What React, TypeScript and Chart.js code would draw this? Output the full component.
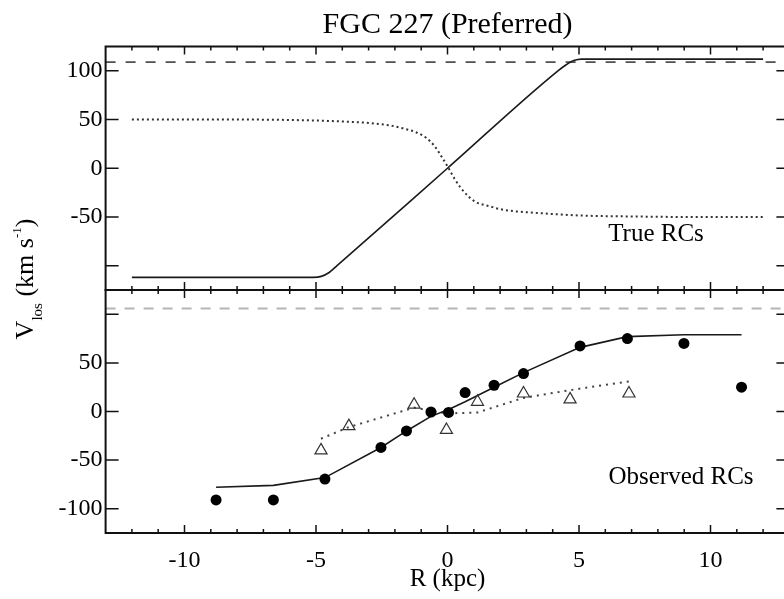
import React, { useEffect, useRef } from "react";
import { Chart, registerables } from "chart.js";

Chart.register(...registerables);

// ---------- data ----------
const X_MIN = -13;
const X_MAX = 13;
const Y_MIN = -125;
const Y_MAX = 125;
const X_TICKS = [-10, -5, 0, 5, 10];
const Y_TICKS = [-100, -50, 0, 50, 100];
const TOP_HIDDEN_LABELS = [-100];
const BOTTOM_HIDDEN_LABELS = [100];

// True RCs (top panel)
const TRUE_SOLID_R = [-12, -8, -5.1, -4.8, -4.5, -4.2, 0, 4.2, 4.5, 4.8, 5.1, 8, 12];
const TRUE_SOLID_V = [-112, -112, -112, -111, -107, -100, 0, 100, 106, 110.5, 112, 112, 112];
const TRUE_DOT_R = [-12, -8, -5, -4, -3, -2.2, -1.7, -1.2, -0.8, -0.5, -0.25, 0, 0.25, 0.5, 0.8, 1.1, 1.6, 2, 2.5, 3.2, 4, 5, 7, 9, 12];
const TRUE_DOT_V = [50, 50, 49, 48, 46.5, 44, 41, 37, 31, 23, 13, 2, -10, -20, -29, -35, -39, -42, -44, -45.5, -47, -48.5, -49.5, -50, -50];
const TRUE_VMAX = 109;

// Observed RCs (bottom panel)
const OBS_CIRCLE_R = [-8.8, -6.62, -4.66, -2.53, -1.56, -0.63, 0.04, 0.67, 1.77, 2.89, 5.04, 6.84, 8.99, 11.18];
const OBS_CIRCLE_V = [-91, -91, -69.5, -37, -20, -0.5, -1, 19.5, 27, 39, 67.5, 75, 70, 25];
const MODEL_SOLID_V = [-78, -76, -68, -37, -20, -5, 2, 10, 25, 40, 66, 77, 79, 79];
const OBS_TRI_R = [-4.81, -3.75, -1.27, -0.04, 1.14, 2.89, 4.66, 6.9];
const OBS_TRI_V = [-40, -15, 7, -19, 10, 18.5, 12.5, 18.5];
const MODEL_DOT_V = [-28, -16, 4, -2, -1, 14, 22, 31];
const OBS_VMAX = 106;

// ---------- layout ----------
const FONT = "'Liberation Serif', 'Times New Roman', serif";
const CANVAS_W = 800;
const CANVAS_H = 599;
const AREA_LEFT = 105.6;
const AREA_RIGHT = 789.4;
const TOP_AREA_TOP = 46.5;
const MID_Y = 290;
const BOT_AREA_BOTTOM = 533;

const pts = (xs: number[], ys: number[]) => xs.map((x, i) => ({ x, y: ys[i] }));

const framePlugin = {
  id: "frameTicks",
  afterDatasetsDraw(chart: any) {
    const { ctx, chartArea: a, scales } = chart;
    const xs = scales.x;
    const ys = scales.y;
    ctx.save();
    ctx.strokeStyle = "#111";
    ctx.lineWidth = 2;
    ctx.strokeRect(a.left, a.top, a.right - a.left, a.bottom - a.top);
    ctx.lineWidth = 1.5;
    ctx.beginPath();
    for (let r = -12; r <= 12; r++) {
      const px = xs.getPixelForValue(r);
      const len = r % 5 === 0 ? 8 : 4;
      ctx.moveTo(px, a.top);
      ctx.lineTo(px, a.top + len);
      ctx.moveTo(px, a.bottom);
      ctx.lineTo(px, a.bottom - len);
    }
    for (const v of Y_TICKS) {
      const py = ys.getPixelForValue(v);
      ctx.moveTo(a.left, py);
      ctx.lineTo(a.left + 13, py);
      ctx.moveTo(a.right, py);
      ctx.lineTo(a.right - 13, py);
    }
    ctx.stroke();
    ctx.restore();
  },
};

const topTextPlugin = {
  id: "topTexts",
  afterDraw(chart: any) {
    const { ctx } = chart;
    ctx.save();
    ctx.fillStyle = "#000";
    // title
    ctx.font = `30px ${FONT}`;
    ctx.textAlign = "center";
    ctx.textBaseline = "middle";
    ctx.fillText("FGC 227 (Preferred)", 447.5, 25);
    // panel label
    ctx.font = `25px ${FONT}`;
    ctx.fillText("True RCs", 656, 234);
    // y title with sub/superscript
    ctx.textAlign = "left";
    ctx.textBaseline = "alphabetic";
    const parts = [
      { t: "V", size: 26, dv: 0 },
      { t: "los", size: 15, dv: 9 },
      { t: " (km s", size: 26, dv: 0 },
      { t: "-1", size: 13, dv: -12 },
      { t: ")", size: 26, dv: 0 },
    ];
    let total = 0;
    const widths = parts.map((p) => {
      ctx.font = `${p.size}px ${FONT}`;
      const w = ctx.measureText(p.t).width;
      total += w;
      return w;
    });
    ctx.translate(33, 279);
    ctx.rotate(-Math.PI / 2);
    let u = -total / 2;
    parts.forEach((p, i) => {
      ctx.font = `${p.size}px ${FONT}`;
      ctx.fillText(p.t, u, p.dv);
      u += widths[i];
    });
    ctx.restore();
  },
};

const botTextPlugin = {
  id: "botTexts",
  afterDraw(chart: any) {
    const { ctx } = chart;
    ctx.save();
    ctx.fillStyle = "#000";
    ctx.font = `25px ${FONT}`;
    ctx.textAlign = "center";
    ctx.textBaseline = "middle";
    ctx.fillText("Observed RCs", 681, 477);
    ctx.restore();
  },
};

const yScale = (hidden: number[]) => ({
  type: "linear",
  min: Y_MIN,
  max: Y_MAX,
  afterBuildTicks: (s: any) => {
    s.ticks = Y_TICKS.map((v) => ({ value: v }));
  },
  afterFit: (s: any) => {
    s.width = AREA_LEFT;
  },
  grid: { display: false, drawTicks: false, tickLength: 0 },
  border: { display: false },
  ticks: {
    padding: 3,
    color: "#000",
    font: { family: FONT, size: 24 },
    callback: (v: any) => (hidden.includes(Number(v)) ? "" : String(v)),
  },
});

export default function App() {
  const topRef = useRef<HTMLCanvasElement>(null);
  const botRef = useRef<HTMLCanvasElement>(null);

  useEffect(() => {
    const common = {
      animation: false,
      responsive: false,
      events: [],
      plugins: { legend: { display: false }, tooltip: { enabled: false }, title: { display: false } },
    };

    const top = new Chart(topRef.current as HTMLCanvasElement, {
      type: "line",
      data: {
        datasets: [
          {
            data: pts(TRUE_SOLID_R, TRUE_SOLID_V),
            borderColor: "#1a1a1a",
            borderWidth: 1.6,
            pointRadius: 0,
            cubicInterpolationMode: "monotone",
          },
          {
            data: pts(TRUE_DOT_R, TRUE_DOT_V),
            borderColor: "#333",
            borderWidth: 2,
            borderDash: [2, 3],
            pointRadius: 0,
            cubicInterpolationMode: "monotone",
          },
          {
            data: pts([X_MIN, X_MAX], [TRUE_VMAX, TRUE_VMAX]),
            borderColor: "#333",
            borderWidth: 1.5,
            borderDash: [10, 10],
            pointRadius: 0,
          },
        ],
      },
      options: {
        ...common,
        layout: { padding: { left: 0, right: CANVAS_W - AREA_RIGHT, top: TOP_AREA_TOP, bottom: CANVAS_H - MID_Y } },
        scales: {
          x: { type: "linear", min: X_MIN, max: X_MAX, display: false },
          y: yScale(TOP_HIDDEN_LABELS),
        },
      },
      plugins: [framePlugin, topTextPlugin],
    } as any);

    const bot = new Chart(botRef.current as HTMLCanvasElement, {
      type: "line",
      data: {
        datasets: [
          {
            data: pts(OBS_CIRCLE_R, OBS_CIRCLE_V),
            showLine: false,
            pointRadius: 5.5,
            pointBackgroundColor: "#000",
            pointBorderWidth: 0,
          },
          {
            data: pts(OBS_TRI_R, OBS_TRI_V),
            showLine: false,
            pointStyle: "triangle",
            pointRadius: 7,
            pointBackgroundColor: "rgba(255,255,255,0)",
            pointBorderColor: "#333",
            pointBorderWidth: 1.2,
          },
          {
            data: pts(OBS_CIRCLE_R, MODEL_SOLID_V),
            borderColor: "#1a1a1a",
            borderWidth: 1.6,
            pointRadius: 0,
          },
          {
            data: pts(OBS_TRI_R, MODEL_DOT_V),
            borderColor: "#444",
            borderWidth: 2,
            borderDash: [2, 5],
            pointRadius: 0,
          },
          {
            data: pts([X_MIN, X_MAX], [OBS_VMAX, OBS_VMAX]),
            borderColor: "#b5b5b5",
            borderWidth: 2,
            borderDash: [10, 9],
            pointRadius: 0,
          },
        ],
      },
      options: {
        ...common,
        layout: { padding: { left: 0, right: CANVAS_W - AREA_RIGHT, top: MID_Y, bottom: 0 } },
        scales: {
          x: {
            type: "linear",
            min: X_MIN,
            max: X_MAX,
            afterBuildTicks: (s: any) => {
              s.ticks = X_TICKS.map((v) => ({ value: v }));
            },
            afterFit: (s: any) => {
              s.height = CANVAS_H - BOT_AREA_BOTTOM;
            },
            grid: { display: false, drawTicks: false, tickLength: 0 },
            border: { display: false },
            ticks: {
              padding: 13,
              color: "#000",
              maxRotation: 0,
              font: { family: FONT, size: 24 },
              callback: (v: any) => String(v),
            },
            title: {
              display: true,
              text: "R (kpc)",
              color: "#000",
              font: { family: FONT, size: 25 },
              padding: { top: 0, bottom: 5 },
            },
          },
          y: yScale(BOTTOM_HIDDEN_LABELS),
        },
      },
      plugins: [framePlugin, botTextPlugin],
    } as any);

    return () => {
      top.destroy();
      bot.destroy();
    };
  }, []);

  return (
    <div
      style={{
        position: "fixed",
        left: 0,
        top: 0,
        width: 784,
        height: 599,
        overflow: "hidden",
        background: "#fff",
      }}
    >
      <canvas ref={botRef} width={CANVAS_W} height={CANVAS_H} style={{ position: "absolute", left: 0, top: 0 }} />
      <canvas ref={topRef} width={CANVAS_W} height={CANVAS_H} style={{ position: "absolute", left: 0, top: 0 }} />
    </div>
  );
}
